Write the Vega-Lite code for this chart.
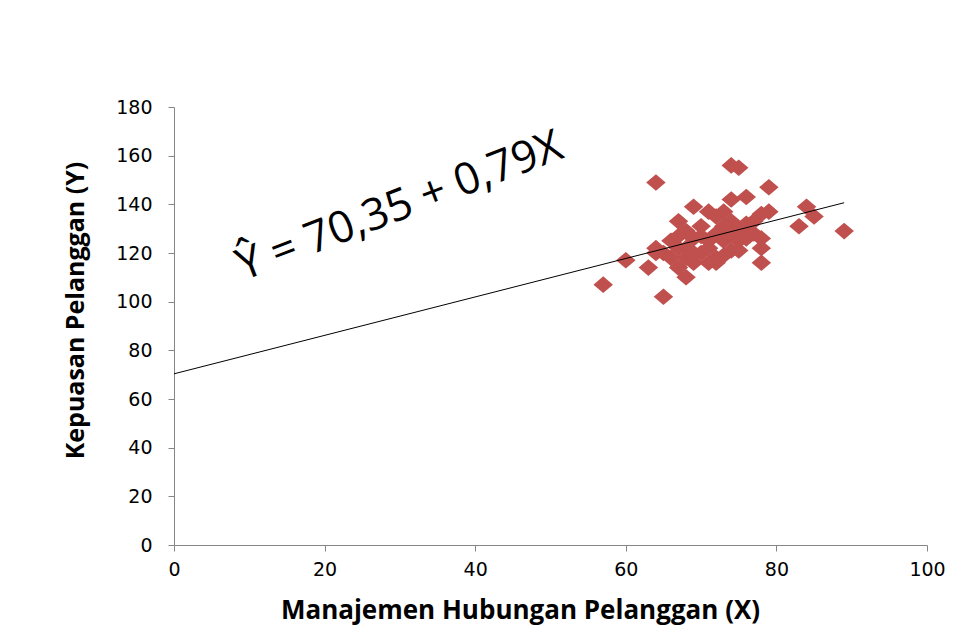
{
  "$schema": "https://vega.github.io/schema/vega-lite/v6.json",
  "width": 753,
  "height": 438,
  "autosize": {"type": "none"},
  "padding": {"left": 174, "top": 107, "right": 32, "bottom": 97},
  "background": "white",
  "config": {
    "view": {"stroke": null},
    "axis": {
      "grid": false,
      "domainColor": "#868686",
      "tickColor": "#868686",
      "tickSize": 6,
      "labelFont": "DejaVu Sans",
      "labelFontSize": 19,
      "labelColor": "#000000",
      "labelFlush": false,
      "titleFont": "Open Sans",
      "titleFontWeight": "bold",
      "titleColor": "#000000"
    }
  },
  "layer": [
    {
      "data": {
        "values": [
          {"x": 57, "y": 107}, {"x": 60, "y": 117}, {"x": 63, "y": 114}, {"x": 64, "y": 149},
          {"x": 65, "y": 102}, {"x": 74, "y": 156}, {"x": 75, "y": 155}, {"x": 79, "y": 147},
          {"x": 84, "y": 139}, {"x": 85, "y": 135}, {"x": 83, "y": 131}, {"x": 89, "y": 129},
          {"x": 78, "y": 116}, {"x": 78, "y": 122}, {"x": 78, "y": 126}, {"x": 79, "y": 137},
          {"x": 78, "y": 136}, {"x": 77, "y": 133}, {"x": 76, "y": 143}, {"x": 74, "y": 142},
          {"x": 69, "y": 139}, {"x": 68, "y": 110}, {"x": 67, "y": 114}, {"x": 67, "y": 133},
          {"x": 68, "y": 129}, {"x": 69, "y": 126}, {"x": 64, "y": 122}, {"x": 65, "y": 120},
          {"x": 66, "y": 118}, {"x": 66, "y": 125}, {"x": 68, "y": 122}, {"x": 69, "y": 116},
          {"x": 70, "y": 120}, {"x": 70, "y": 131}, {"x": 71, "y": 137}, {"x": 71, "y": 125},
          {"x": 72, "y": 118}, {"x": 72, "y": 135}, {"x": 72, "y": 128}, {"x": 73, "y": 125},
          {"x": 73, "y": 119}, {"x": 72, "y": 116}, {"x": 74, "y": 133}, {"x": 74, "y": 128},
          {"x": 74, "y": 121}, {"x": 75, "y": 125}, {"x": 75, "y": 130}, {"x": 75, "y": 121},
          {"x": 76, "y": 129}, {"x": 76, "y": 132}, {"x": 76, "y": 126}, {"x": 73, "y": 131},
          {"x": 71, "y": 122}, {"x": 70, "y": 127}, {"x": 68, "y": 118}, {"x": 71, "y": 116},
          {"x": 73, "y": 137}, {"x": 77, "y": 128}, {"x": 69, "y": 120}, {"x": 67, "y": 127},
          {"x": 64, "y": 120}, {"x": 67, "y": 122}
        ]
      },
      "mark": {
        "type": "point",
        "shape": "M0,-0.85L1,0L0,0.85L-1,0Z",
        "filled": true,
        "color": "#c0504d",
        "opacity": 1,
        "size": 380
      },
      "encoding": {
        "x": {
          "field": "x",
          "type": "quantitative",
          "scale": {"domain": [0, 100], "nice": false, "zero": true},
          "axis": {
            "values": [0, 20, 40, 60, 80, 100],
            "title": "Manajemen Hubungan Pelanggan (X)",
            "titleFontSize": 26,
            "titleX": 346,
            "titleY": 65,
            "titleBaseline": "middle",
            "titleAlign": "center",
            "labelPadding": 9
          }
        },
        "y": {
          "field": "y",
          "type": "quantitative",
          "scale": {"domain": [0, 180], "nice": false},
          "axis": {
            "values": [0, 20, 40, 60, 80, 100, 120, 140, 160, 180],
            "title": "Kepuasan Pelanggan (Y)",
            "titleFontSize": 25,
            "titleX": -99,
            "titleY": 203,
            "titleBaseline": "middle",
            "titleAlign": "center",
            "labelPadding": 16
          }
        }
      }
    },
    {
      "data": {"values": [{"x": 0, "y": 70.35}, {"x": 89, "y": 140.66}]},
      "mark": {"type": "line", "color": "#000000", "strokeWidth": 1},
      "encoding": {
        "x": {"field": "x", "type": "quantitative"},
        "y": {"field": "y", "type": "quantitative"}
      }
    },
    {
      "data": {"values": [{"x": 30, "y": 139, "label": "Ŷ  = 70,35 + 0,79X"}]},
      "mark": {
        "type": "text",
        "angle": 339,
        "font": "Open Sans",
        "fontSize": 44,
        "color": "#000000",
        "align": "center",
        "baseline": "middle"
      },
      "encoding": {
        "x": {"field": "x", "type": "quantitative"},
        "y": {"field": "y", "type": "quantitative"},
        "text": {"field": "label"}
      }
    }
  ]
}
